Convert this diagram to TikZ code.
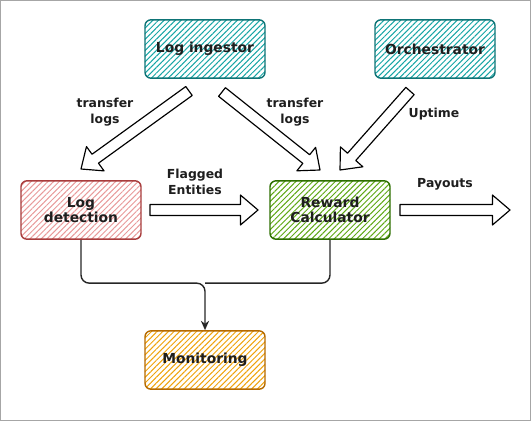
\documentclass[tikz,border=0pt]{standalone}
\usepackage{fontspec}
\setmainfont{DejaVu Sans}
\usepackage{xcolor}
\usetikzlibrary{arrows.meta,positioning,calc,patterns.meta}

\definecolor{ingestfill}{HTML}{16A5A5}
\definecolor{ingestline}{HTML}{0E7476}
\definecolor{detfill}{HTML}{E89A9A}
\definecolor{detline}{HTML}{A83C3C}
\definecolor{rewfill}{HTML}{5FA816}
\definecolor{rewline}{HTML}{2D6E00}
\definecolor{monfill}{HTML}{EFA20A}
\definecolor{monline}{HTML}{B56A00}
\definecolor{txt}{HTML}{1E1E1E}

\tikzset{
  box/.style={draw, rounded corners=5pt, line width=1.2pt, minimum width=3.6cm,
    minimum height=1.75cm, align=center, text=txt,
    font=\fontsize{11.8}{13.2}\selectfont\bfseries,
    pattern={Lines[angle=45,distance=3.4pt,line width=0.85pt]}},
  elabel/.style={align=center, text=txt, font=\fontsize{10.6}{13.4}\selectfont\bfseries},
  blockarr/.style={draw=black, fill=white, line width=1pt, line join=round},
  flow/.style={draw=black!85, line width=1.2pt, rounded corners=7pt}
}

% wide hollow arrow from #1 to #2
\newcommand{\blockarrow}[2]{%
  \coordinate (neck) at ($(#2)!15pt!(#1)$);
  \draw[blockarr] ($(#1)!4.7pt!90:(#2)$) -- ($(neck)!4.7pt!-90:(#1)$)
    -- ($(neck)!12.8pt!-90:(#1)$) -- (#2) -- ($(neck)!12.8pt!90:(#1)$)
    -- ($(neck)!4.7pt!90:(#1)$) -- ($(#1)!4.7pt!-90:(#2)$) -- cycle;
}

\begin{document}
\begin{tikzpicture}[x=0.03cm, y=-0.03cm]
    \useasboundingbox (0,0) rectangle (531,421);
    \draw[gray!70, line width=0.8pt] (0.5,0.5) rectangle (530.5,420.5);

    \node (ingest) [box, draw=ingestline, pattern color=ingestfill] at (205,49) {Log ingestor};
    \node (orch) [box, draw=ingestline, pattern color=ingestfill, right of=ingest, node distance=6.9cm] {Orchestrator};
    \node (detect) [box, draw=detline, pattern color=detfill, below of=ingest, node distance=4.83cm, xshift=-3.72cm] {Log\\detection};
    \node (reward) [box, draw=rewline, pattern color=rewfill, right of=detect, node distance=7.47cm] {Reward\\Calculator};
    \node (monitor) [box, draw=monline, pattern color=monfill, below of=ingest, node distance=9.33cm] {Monitoring};

    % arrow ends
    \coordinate (t1a) at (189,91);  \coordinate (t1b) at (81,169);
    \coordinate (t2a) at (222,92);  \coordinate (t2b) at (320,170);
    \coordinate (upa) at (410,91);  \coordinate (upb) at (340,170);
    \coordinate (fla) at (150,210); \coordinate (flb) at (258,210);
    \coordinate (paya) at (400,210); \coordinate (payb) at (510,210);

    \blockarrow{t1a}{t1b}
    \blockarrow{t2a}{t2b}
    \blockarrow{upa}{upb}
    \blockarrow{fla}{flb}
    \blockarrow{paya}{payb}

    \node (lbl1) [elabel] at (105,112) {transfer\\logs};
    \node (lbl2) [elabel] at (295,112) {transfer\\logs};
    \node (lbl3) [elabel] at (434,114) {Uptime};
    \node (lbl4) [elabel] at (195,182) {Flagged\\Entities};
    \node (lbl5) [elabel] at (445,184) {Payouts};

    \coordinate (join) at ($(monitor.north)+(0,-47)$);
    \draw[flow, -{Stealth[length=8pt,width=7pt]}] (detect.south) |- (join) -- (monitor.north);
    \draw[flow] (reward.south) |- (join);
\end{tikzpicture}
\end{document}
